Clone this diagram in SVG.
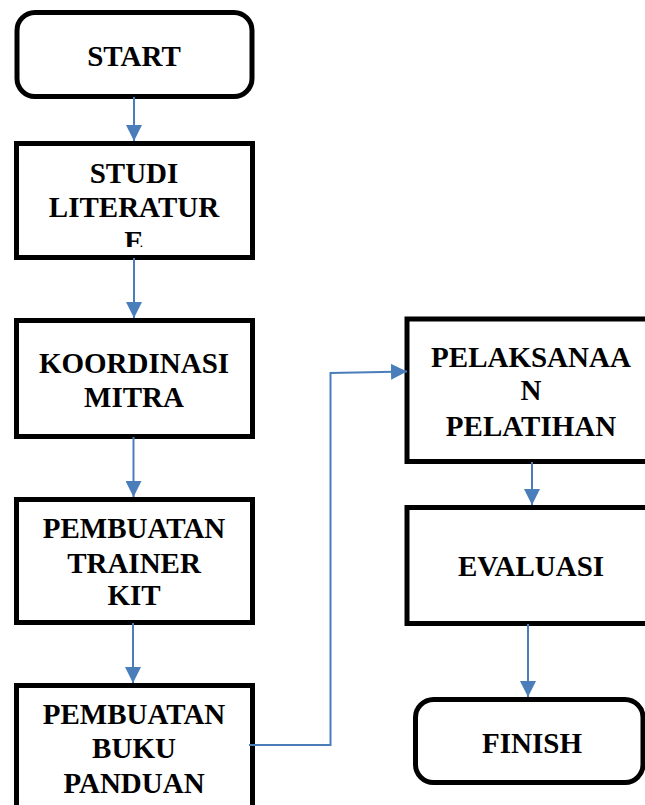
<svg xmlns="http://www.w3.org/2000/svg" width="645" height="805" viewBox="0 0 645 805">
<style>
.box{fill:#fff;stroke:#000;stroke-width:5}
.t{font-family:"Liberation Serif","Times New Roman",serif;font-weight:bold;font-size:29px;text-anchor:middle;fill:#000}
.c{fill:none;stroke:#4a7ebb;stroke-width:2}
</style>
<defs>
<marker id="ah" markerUnits="userSpaceOnUse" markerWidth="16" markerHeight="16" viewBox="0 0 16 16" refX="16" refY="8" orient="auto">
<path d="M0,0 L16,8 L0,16 Z" fill="#4a7ebb"/>
</marker>
<clipPath id="clipStudi"><rect x="19" y="146" width="230" height="101"/></clipPath>
</defs>
<rect width="645" height="805" fill="#fff"/>
<g id="start">
<rect class="box" x="17" y="12.5" width="235" height="84" rx="18"/>
<text class="t" x="134" y="66">START</text>
</g>
<g id="studi">
<rect class="box" x="16.5" y="143.5" width="236" height="114"/>
<g clip-path="url(#clipStudi)">
<text class="t" x="134" y="183">STUDI</text>
<text class="t" x="134" y="217">LITERATUR</text>
<text class="t" x="134" y="251">E</text>
</g>
</g>
<g id="koordinasi">
<rect class="box" x="16.5" y="320.5" width="236" height="116"/>
<text class="t" x="134" y="373">KOORDINASI</text>
<text class="t" x="134" y="407">MITRA</text>
</g>
<g id="trainer">
<rect class="box" x="16.5" y="499.5" width="236" height="123"/>
<text class="t" x="134" y="538">PEMBUATAN</text>
<text class="t" x="134" y="573">TRAINER</text>
<text class="t" x="134" y="605">KIT</text>
</g>
<g id="buku">
<rect class="box" x="16.5" y="685.5" width="236" height="140"/>
<text class="t" x="134" y="724">PEMBUATAN</text>
<text class="t" x="134" y="758">BUKU</text>
<text class="t" x="134" y="793">PANDUAN</text>
</g>
<g id="pelaksanaan">
<rect class="box" x="407" y="319" width="250" height="142.5"/>
<text class="t" x="531" y="367">PELAKSANAA</text>
<text class="t" x="531" y="400">N</text>
<text class="t" x="531" y="436">PELATIHAN</text>
</g>
<g id="evaluasi">
<rect class="box" x="407" y="507.5" width="250" height="116"/>
<text class="t" x="531" y="576">EVALUASI</text>
</g>
<g id="finish">
<rect class="box" x="415.5" y="699.5" width="227.5" height="83" rx="18"/>
<text class="t" x="532" y="753">FINISH</text>
</g>
<g id="connectors">
<path class="c" d="M134,97 V141" marker-end="url(#ah)"/>
<path class="c" d="M134,258 V318" marker-end="url(#ah)"/>
<path class="c" d="M133.5,437 V497" marker-end="url(#ah)"/>
<path class="c" d="M133,623 V683" marker-end="url(#ah)"/>
<path class="c" d="M249,745 H330.5 V373 L407,371.5" marker-end="url(#ah)"/>
<path class="c" d="M532,462 V505" marker-end="url(#ah)"/>
<path class="c" d="M528,624 V697" marker-end="url(#ah)"/>
</g>
</svg>
